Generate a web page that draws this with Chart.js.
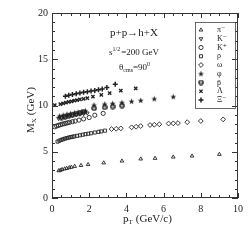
<!DOCTYPE html>
<html>
<head>
<meta charset="utf-8">
<script src="https://cdn.jsdelivr.net/npm/chart.js@4.4.0/dist/chart.umd.min.js"></script>
<style>
  body { margin: 0; background: #fff; }
  #wrap { width: 251px; height: 251px; }
</style>
</head>
<body>
<div id="wrap"><canvas id="chart" width="251" height="251"></canvas></div>
<script>
// --- data (pT in GeV/c, M_X in GeV) ---
const labels = ['π⁻', 'K⁻', 'K⁺', 'ρ', 'ω', 'φ', 'p̄', 'Λ', 'Ξ⁻'];

const ptPi = [0.36, 0.45, 0.54, 0.68, 0.79, 0.93, 1.04, 1.22, 1.56, 1.94, 2.78, 3.76, 4.77, 5.54, 6.52, 7.53, 9.0];
const mPi  = [2.95, 3.0, 3.08, 3.15, 3.2, 3.28, 3.33, 3.42, 3.52, 3.62, 3.8, 4.0, 4.22, 4.29, 4.43, 4.54, 4.72];

const ptKm = [0.35, 0.5, 0.65, 0.8, 0.95, 1.1, 1.3, 1.5, 1.7, 1.9];
const mKm  = [8.6, 8.68, 8.75, 8.82, 8.88, 8.94, 9.0, 9.06, 9.12, 9.18];

const ptKp = [0.15, 0.25, 0.35, 0.45, 0.55, 0.65, 0.75, 0.85, 0.95, 1.1, 1.25, 1.45, 1.7, 2.0, 2.3, 2.75];
const mKp  = [7.7, 7.78, 7.85, 7.92, 7.98, 8.03, 8.08, 8.13, 8.18, 8.25, 8.32, 8.42, 8.55, 8.7, 8.95, 9.15];

const ptRho = [0.3, 0.4, 0.5, 0.6, 0.7, 0.8, 0.9, 1.0, 1.1, 1.2, 1.35, 1.5, 1.65, 1.8, 1.95, 2.1, 2.3, 2.5, 2.65, 2.85];
const mRho  = [6.1, 6.2, 6.28, 6.35, 6.42, 6.48, 6.53, 6.58, 6.62, 6.66, 6.72, 6.78, 6.84, 6.9, 6.95, 7.0, 7.08, 7.15, 7.2, 7.28];

const ptOmega = [3.2, 3.45, 3.7, 4.28, 4.52, 4.77, 5.27, 5.5, 5.77, 6.27, 6.52, 6.77, 7.27, 8.0, 9.2];
const mOmega  = [7.45, 7.48, 7.53, 7.64, 7.7, 7.78, 7.89, 7.92, 7.97, 8.05, 8.07, 8.1, 8.2, 8.32, 8.5];

const ptPhi = [0.4, 0.6, 0.8, 1.0, 1.2, 1.4, 1.6, 1.8, 2.26, 2.83, 3.26, 3.76, 4.28, 4.77, 5.5, 6.52];
const mPhi  = [8.85, 8.95, 9.05, 9.12, 9.2, 9.27, 9.35, 9.42, 10.05, 10.15, 10.22, 10.32, 10.45, 10.55, 10.72, 10.95];

const ptPbar = [0.5, 0.7, 0.9, 1.1, 1.3, 1.5, 1.7, 2.26, 2.83, 3.26, 3.76];
const mPbar  = [8.7, 8.8, 8.9, 9.0, 9.1, 9.2, 9.3, 9.7, 9.8, 9.88, 9.98];

const ptLam = [0.15, 0.45, 0.6, 0.75, 0.9, 1.05, 1.2, 1.35, 1.5, 1.7, 1.9, 2.2, 2.65, 3.1, 3.7, 4.5];
const mLam  = [10.05, 10.15, 10.22, 10.3, 10.38, 10.45, 10.52, 10.58, 10.65, 10.72, 10.8, 10.95, 11.15, 11.35, 11.6, 11.86];

const ptXi = [0.72, 0.9, 1.1, 1.3, 1.5, 1.7, 1.9, 2.1, 2.3, 2.5, 2.7, 2.95, 3.4];
const mXi  = [11.0, 11.12, 11.2, 11.28, 11.36, 11.43, 11.5, 11.57, 11.63, 11.7, 11.78, 11.95, 12.3];

const xTicks = [0, 2, 4, 6, 8, 10];
const yTicks = [0, 5, 10, 15, 20];

const SERIF = '"Liberation Serif", "DejaVu Serif", serif';
const INK = '#222';

// small custom marker images
function makeStar() {
    const c = document.createElement('canvas');
    c.width = 7; c.height = 7;
    const g = c.getContext('2d');
    g.fillStyle = INK;
    g.beginPath();
    for (let i = 0; i < 10; i++) {
        const r = i % 2 === 0 ? 3.1 : 1.3;
        const a = -Math.PI / 2 + i * Math.PI / 5;
        g.lineTo(3.5 + r * Math.cos(a), 3.7 + r * Math.sin(a));
    }
    g.closePath();
    g.fill();
    return c;
}
function makeGear() {
    const c = document.createElement('canvas');
    c.width = 6; c.height = 6;
    const g = c.getContext('2d');
    g.strokeStyle = INK;
    g.lineWidth = 1.4;
    g.beginPath(); g.arc(3, 3, 2.1, 0, Math.PI * 2); g.stroke();
    g.fillStyle = INK;
    g.beginPath(); g.arc(3, 3, 0.7, 0, Math.PI * 2); g.fill();
    return c;
}
const STAR = makeStar();
const GEAR = makeGear();

function pts(xs, ys) {
    return xs.map((x, i) => ({ x: x, y: ys[i] }));
}

function ds(label, xs, ys, style, extra) {
    return Object.assign({
        label: label,
        data: pts(xs, ys),
        pointStyle: style,
        pointRadius: 2.1,
        pointBorderWidth: 0.9,
        pointBorderColor: INK,
        pointBackgroundColor: 'rgba(0,0,0,0)',
        showLine: false
    }, extra || {});
}

const datasets = [
    ds(labels[0], ptPi, mPi, 'triangle'),
    ds(labels[1], ptKm, mKm, 'triangle', { pointRotation: 180 }),
    ds(labels[2], ptKp, mKp, 'circle'),
    ds(labels[3], ptRho, mRho, 'rect', { pointRadius: 2.2 }),
    ds(labels[4], ptOmega, mOmega, 'rectRot', { pointRadius: 2.4 }),
    ds(labels[5], ptPhi, mPhi, STAR),
    ds(labels[6], ptPbar, mPbar, GEAR),
    ds(labels[7], ptLam, mLam, 'crossRot', { pointBorderWidth: 1.4, pointRadius: 2.3 }),
    ds(labels[8], ptXi, mXi, 'cross', { pointBorderWidth: 1.5, pointRadius: 2.5 })
];

// frame, inward ticks, titles, annotations and legend box
const decor = {
    id: 'decor',
    afterDraw(chart) {
        const ctx = chart.ctx;
        const xs = chart.scales.x, ys = chart.scales.y;
        const a = chart.chartArea;
        ctx.save();
        ctx.strokeStyle = '#333';
        ctx.lineWidth = 1;
        ctx.strokeRect(a.left + 0.5, a.top + 0.5, a.right - a.left - 1, a.bottom - a.top - 1);

        ctx.beginPath();
        for (let v = 0; v <= 10.001; v += 0.5) {
            const px = Math.round(xs.getPixelForValue(v)) + 0.5;
            const len = Math.abs(v % 2) < 0.01 ? 5 : 3;
            ctx.moveTo(px, a.bottom); ctx.lineTo(px, a.bottom - len);
            ctx.moveTo(px, a.top); ctx.lineTo(px, a.top + len);
        }
        for (let v = 0; v <= 20; v += 1) {
            const py = Math.round(ys.getPixelForValue(v)) + 0.5;
            const len = v % 5 === 0 ? 6 : 3;
            ctx.moveTo(a.left, py); ctx.lineTo(a.left + len, py);
            ctx.moveTo(a.right, py); ctx.lineTo(a.right - len, py);
        }
        ctx.stroke();

        ctx.fillStyle = INK;
        ctx.textBaseline = 'alphabetic';

        // x title: p_T (GeV/c)
        ctx.font = '11px ' + SERIF;
        let x0 = 123, y0 = 222;
        ctx.textAlign = 'left';
        ctx.fillText('p', x0, y0);
        let w = ctx.measureText('p').width;
        ctx.font = '7px ' + SERIF;
        ctx.fillText('T', x0 + w, y0 + 2);
        w += ctx.measureText('T').width + 3;
        ctx.font = '11px ' + SERIF;
        ctx.fillText('(GeV/c)', x0 + w, y0);

        // y title: M_X (GeV)
        ctx.save();
        ctx.translate(34, 133);
        ctx.rotate(-Math.PI / 2);
        ctx.font = '11px ' + SERIF;
        ctx.fillText('M', 0, 0);
        w = ctx.measureText('M').width;
        ctx.font = '7px ' + SERIF;
        ctx.fillText('X', w, 2);
        w += ctx.measureText('X').width + 3;
        ctx.font = '11px ' + SERIF;
        ctx.fillText('(GeV)', w, 0);
        ctx.restore();

        // annotations
        ctx.font = '11px ' + SERIF;
        ctx.fillText('p+p\u2192h+X', 110, 36);

        ctx.font = '9px ' + SERIF;
        x0 = 109; y0 = 55;
        ctx.fillText('s', x0, y0);
        w = ctx.measureText('s').width;
        ctx.font = '6px ' + SERIF;
        ctx.fillText('1/2', x0 + w, y0 - 4);
        w += ctx.measureText('1/2').width + 1;
        ctx.font = '9px ' + SERIF;
        ctx.fillText('=200 GeV', x0 + w, y0);

        x0 = 119; y0 = 70;
        ctx.fillText('\u03b8', x0, y0);
        w = ctx.measureText('\u03b8').width;
        ctx.font = '6px ' + SERIF;
        ctx.fillText('cms', x0 + w, y0 + 2);
        w += ctx.measureText('cms').width;
        ctx.font = '9px ' + SERIF;
        ctx.fillText('=90', x0 + w, y0);
        w += ctx.measureText('=90').width;
        ctx.font = '6px ' + SERIF;
        ctx.fillText('0', x0 + w, y0 - 4);

        // legend box
        ctx.strokeStyle = '#444';
        ctx.lineWidth = 0.8;
        ctx.strokeRect(195.5, 22.5, 40, 86);
        ctx.font = '8px ' + SERIF;
        ctx.textBaseline = 'middle';
        chart.data.datasets.forEach((d, i) => {
            const ly = 30 + i * 8.75;
            ctx.strokeStyle = INK;
            ctx.fillStyle = 'rgba(0,0,0,0)';
            ctx.lineWidth = d.pointBorderWidth;
            Chart.helpers.drawPoint(ctx, {
                pointStyle: d.pointStyle,
                radius: d.pointRadius,
                rotation: d.pointRotation || 0,
                borderWidth: d.pointBorderWidth
            }, 201, ly);
            ctx.fillStyle = INK;
            ctx.fillText(d.label, 217, ly);
        });
        ctx.restore();
    }
};

new Chart(document.getElementById('chart'), {
    type: 'scatter',
    data: { datasets: datasets },
    options: {
        responsive: false,
        animation: false,
        layout: { padding: { top: 13, right: 13, left: 0, bottom: 0 } },
        plugins: { legend: { display: false }, tooltip: { enabled: false } },
        scales: {
            x: {
                type: 'linear', min: 0, max: 10,
                grid: { display: false, drawTicks: false },
                border: { display: false },
                afterFit: s => { s.height = 53; },
                afterBuildTicks: s => { s.ticks = xTicks.map(v => ({ value: v })); },
                ticks: { padding: 5, color: INK, font: { family: SERIF, size: 10 } }
            },
            y: {
                type: 'linear', min: 0, max: 20,
                grid: { display: false, drawTicks: false },
                border: { display: false },
                afterFit: s => { s.width = 52; },
                afterBuildTicks: s => { s.ticks = yTicks.map(v => ({ value: v })); },
                ticks: { padding: 4, color: INK, font: { family: SERIF, size: 10 } }
            }
        }
    },
    plugins: [decor]
});
</script>
</body>
</html>
